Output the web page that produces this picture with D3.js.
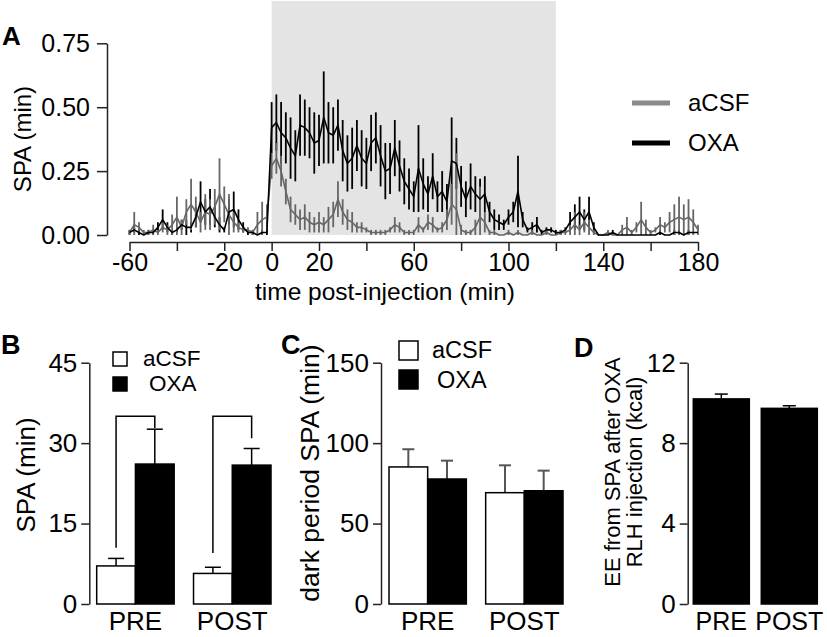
<!DOCTYPE html>
<html><head><meta charset="utf-8">
<script src="https://cdn.jsdelivr.net/npm/d3@7"></script>
<style>
body{margin:0;background:#fff}
svg{display:block;background:#fff}
text{font-family:"Liberation Sans",Arial,Helvetica,sans-serif;fill:#000}
</style>
</head><body>
<svg id="c" width="827" height="637"></svg>
<script>
// ---------------- DATA ----------------
// Panel A: time course (2-min bins), mean and SEM
const timeMin = d3.range(-60, 181, 2);
const oxaMean = [
0.01,0.02,0.01,0.00,0.01,0.01,0.03,0.06,0.03,0.01,
0.02,0.04,0.03,0.03,0.07,0.13,0.09,0.11,0.07,0.04,
0.02,0.09,0.10,0.06,0.03,0.01,0.01,0.00,0.01,0.01,
0.42,0.44,0.40,0.38,0.34,0.31,0.43,0.42,0.40,0.36,
0.37,0.46,0.40,0.39,0.43,0.33,0.28,0.30,0.35,0.30,
0.28,0.36,0.38,0.31,0.25,0.26,0.34,0.27,0.21,0.18,
0.15,0.26,0.20,0.16,0.23,0.15,0.17,0.13,0.29,0.28,
0.19,0.14,0.19,0.16,0.14,0.16,0.09,0.06,0.05,0.04,
0.07,0.09,0.17,0.06,0.02,0.03,0.04,0.01,0.02,0.02,
0.01,0.01,0.02,0.05,0.07,0.09,0.06,0.09,0.03,0.00,
0.00,0.00,0.01,0.00,0.00,0.00,0.00,0.00,0.00,0.00,
0.00,0.00,0.01,0.00,0.00,0.01,0.01,0.00,0.01,0.01,0.01];
const oxaSem = [
0.01,0.01,0.01,0.00,0.01,0.01,0.02,0.04,0.02,0.01,
0.01,0.02,0.03,0.02,0.04,0.08,0.05,0.07,0.04,0.03,
0.01,0.05,0.07,0.04,0.02,0.01,0.01,0.00,0.01,0.01,
0.10,0.11,0.12,0.10,0.12,0.10,0.12,0.11,0.10,0.12,
0.10,0.18,0.12,0.11,0.10,0.12,0.11,0.12,0.10,0.11,
0.10,0.11,0.10,0.12,0.11,0.10,0.11,0.10,0.09,0.08,
0.06,0.17,0.10,0.07,0.09,0.06,0.08,0.07,0.17,0.10,
0.08,0.07,0.09,0.07,0.08,0.07,0.04,0.04,0.03,0.02,
0.03,0.04,0.14,0.03,0.01,0.02,0.03,0.01,0.01,0.01,
0.01,0.01,0.01,0.04,0.05,0.06,0.04,0.06,0.02,0.00,
0.00,0.00,0.01,0.00,0.00,0.00,0.00,0.00,0.00,0.00,
0.00,0.00,0.01,0.00,0.00,0.01,0.01,0.00,0.01,0.00,0.00];
const csfMean = [
0.01,0.04,0.03,0.01,0.01,0.02,0.01,0.03,0.02,0.04,
0.07,0.03,0.09,0.12,0.09,0.05,0.09,0.08,0.11,0.16,
0.12,0.08,0.05,0.03,0.02,0.02,0.01,0.04,0.06,0.07,
0.27,0.30,0.25,0.17,0.10,0.08,0.06,0.07,0.05,0.04,
0.05,0.04,0.06,0.08,0.14,0.09,0.06,0.05,0.03,0.03,
0.02,0.01,0.01,0.01,0.01,0.02,0.04,0.03,0.01,0.01,
0.01,0.04,0.02,0.05,0.04,0.02,0.03,0.06,0.12,0.10,
0.02,0.01,0.01,0.03,0.07,0.05,0.01,0.01,0.00,0.00,
0.01,0.00,0.01,0.00,0.00,0.01,0.00,0.00,0.01,0.00,
0.00,0.01,0.01,0.02,0.04,0.02,0.05,0.03,0.01,0.00,
0.00,0.01,0.00,0.00,0.02,0.03,0.01,0.03,0.06,0.03,
0.01,0.02,0.04,0.03,0.05,0.06,0.07,0.06,0.07,0.05,0.02];
const csfSem = [
0.01,0.05,0.02,0.01,0.01,0.02,0.01,0.02,0.02,0.04,
0.08,0.03,0.05,0.10,0.06,0.04,0.07,0.06,0.07,0.14,
0.07,0.08,0.04,0.02,0.01,0.01,0.01,0.05,0.07,0.05,
0.05,0.06,0.06,0.05,0.05,0.04,0.04,0.05,0.04,0.03,
0.04,0.03,0.05,0.05,0.07,0.05,0.04,0.04,0.02,0.02,
0.01,0.01,0.01,0.01,0.01,0.01,0.03,0.02,0.01,0.01,
0.01,0.03,0.01,0.03,0.03,0.01,0.02,0.04,0.08,0.22,
0.02,0.01,0.01,0.03,0.12,0.04,0.01,0.01,0.00,0.00,
0.01,0.00,0.01,0.00,0.00,0.01,0.00,0.00,0.01,0.00,
0.00,0.01,0.01,0.02,0.05,0.02,0.04,0.03,0.01,0.00,
0.00,0.01,0.00,0.00,0.02,0.04,0.01,0.02,0.07,0.03,
0.01,0.01,0.03,0.02,0.04,0.06,0.08,0.06,0.07,0.05,0.02];
const shadeWindow = [0, 120];
const timeTicks = d3.range(-60, 181, 20);
const timeLabels = [-60, -20, 0, 20, 60, 100, 140, 180];
const spaTicksA = [0, 0.25, 0.5, 0.75];

// Panels B-D
const groups = ["PRE", "POST"];
const seriesNames = ["aCSF", "OXA"];
const bCsfMean = [7.1, 5.7];
const bCsfErr = [1.4, 1.15];
const bOxaMean = [26.1, 25.9];
const bOxaErr = [6.5, 3.1];
const bBracketTop = [35, 35];
const bBracketLeftEnd = [10.5, 9.5];
const bBracketRightEnd = [32.8, 30.9];
const bTicks = [0, 15, 30, 45];

const cCsfMean = [85.2, 69.2];
const cCsfErr = [11.0, 17.0];
const cOxaMean = [77.7, 70.4];
const cOxaErr = [11.4, 12.5];
const cTicks = [0, 50, 100, 150];

const dMean = [10.2, 9.73];
const dErr = [0.24, 0.13];
const dTicks = [0, 4, 8, 12];

// ---------------- DRAW ----------------
const svg = d3.select("#c");
const FONT = '"Liberation Sans",Arial,Helvetica,sans-serif';
const GRAY = "#666";

function styleAxis(g, fs) {
  g.attr("font-family", FONT).attr("font-size", fs);
  g.selectAll("path.domain").attr("stroke", "#222").attr("stroke-width", 1.5);
  g.selectAll(".tick line").attr("stroke", "#222").attr("stroke-width", 1.5);
  g.selectAll(".tick text").attr("fill", "#000");
}

// ===== Panel A =====
const xA = d3.scaleLinear().domain([-60, 180]).range([129.5, 698]);
const yA = d3.scaleLinear().domain([0, 0.75]).range([235, 43.3]);

svg.append("rect")
  .attr("x", xA(shadeWindow[0])).attr("y", 1)
  .attr("width", xA(shadeWindow[1]) - xA(shadeWindow[0]))
  .attr("height", yA(0) - 1)
  .attr("fill", "#e4e4e4");

const seriesA = [
  {name: "OXA", mean: oxaMean, sem: oxaSem, color: "#000"},
  {name: "aCSF", mean: csfMean, sem: csfSem, color: GRAY}
];
seriesA.forEach(s => {
  svg.append("g").selectAll("line").data(timeMin).join("line")
    .attr("x1", (t) => xA(t)).attr("x2", (t) => xA(t))
    .attr("y1", (t, i) => yA(Math.max(0, s.mean[i] - s.sem[i])))
    .attr("y2", (t, i) => yA(s.mean[i] + s.sem[i]))
    .attr("stroke", s.color).attr("stroke-width", 1.8);
});
seriesA.slice().reverse().forEach(s => {
  svg.append("path")
    .datum(timeMin)
    .attr("fill", "none").attr("stroke", s.color).attr("stroke-width", 1.6)
    .attr("stroke-linejoin", "round")
    .attr("d", d3.line().x(t => xA(t)).y((t, i) => yA(s.mean[i])));
});

const axAy = svg.append("g").attr("transform", "translate(107,0)")
  .call(d3.axisLeft(yA).tickValues(spaTicksA).tickFormat(d3.format(".2f")).tickSize(10).tickPadding(7).tickSizeOuter(0));
styleAxis(axAy, 25);
const axAx = svg.append("g").attr("transform", "translate(0,242)")
  .call(d3.axisBottom(xA).tickValues(timeTicks).tickFormat(d => timeLabels.includes(d) ? d : "").tickSize(9).tickPadding(2).tickSizeOuter(0));
styleAxis(axAx, 25);

svg.append("text").attr("x", 385).attr("y", 300).attr("text-anchor", "middle")
  .attr("font-size", 24.5).text("time post-injection (min)");
svg.append("text").attr("transform", "translate(23,139) rotate(-90)")
  .attr("text-anchor", "middle").attr("dy", "0.35em").attr("font-size", 24).text("SPA (min)");
svg.append("text").attr("x", 2).attr("y", 45).attr("font-size", 26).attr("font-weight", "bold").text("A");

// legend A
const legA = [{name: "aCSF", color: "#8a8a8a", y: 103}, {name: "OXA", color: "#000", y: 143}];
legA.forEach(l => {
  svg.append("line").attr("x1", 632).attr("x2", 670).attr("y1", l.y).attr("y2", l.y)
    .attr("stroke", l.color).attr("stroke-width", 5);
  svg.append("text").attr("x", 688).attr("y", l.y).attr("dy", "0.35em").attr("font-size", 24).text(l.name);
});

// ===== generic bar panel =====
function barPanel(opt) {
  const x = d3.scaleBand().domain(groups).range(opt.xr).paddingInner(opt.pad);
  const y = d3.scaleLinear().domain([0, opt.max]).range([604, 362.7]);
  const g = svg.append("g");
  const ax = g.append("g").attr("transform", `translate(${opt.axisX},0)`)
    .call(d3.axisLeft(y).tickValues(opt.ticks).tickSize(8).tickPadding(4).tickSizeOuter(0));
  styleAxis(ax, 26);
  g.selectAll("text.xl").data(groups).join("text").attr("class", "xl")
    .attr("x", d => x(d) + x.bandwidth() / 2).attr("y", 630)
    .attr("text-anchor", "middle").attr("font-size", opt.xfs || 26).text(d => d);
  return {x, y, g};
}

function errBar(g, cx, yTop, yErr, cap, color, w) {
  g.append("line").attr("x1", cx).attr("x2", cx).attr("y1", yTop).attr("y2", yErr)
    .attr("stroke", color).attr("stroke-width", w);
  g.append("line").attr("x1", cx - cap / 2).attr("x2", cx + cap / 2).attr("y1", yErr).attr("y2", yErr)
    .attr("stroke", color).attr("stroke-width", w);
}

// ===== Panel B =====
{
  const {x, y, g} = barPanel({xr: [96.7, 271], pad: 0.2, max: 45, ticks: bTicks, axisX: 89.3});
  const s = d3.scaleBand().domain(seriesNames).range([0, x.bandwidth()]);
  const sets = [{n: "aCSF", m: bCsfMean, e: bCsfErr, fill: "#fff"}, {n: "OXA", m: bOxaMean, e: bOxaErr, fill: "#000"}];
  sets.forEach(st => {
    groups.forEach((gr, i) => {
      const bx = x(gr) + s(st.n);
      errBar(g, bx + s.bandwidth() / 2, y(st.m[i]), y(st.m[i] + st.e[i]), 16, "#000", 1.5);
      g.append("rect").attr("x", bx).attr("y", y(st.m[i])).attr("width", s.bandwidth())
        .attr("height", y(0) - y(st.m[i])).attr("fill", st.fill).attr("stroke", "#000").attr("stroke-width", 1.5);
    });
  });
  groups.forEach((gr, i) => {
    const xl = x(gr) + s("aCSF") + s.bandwidth() / 2;
    const xr = x(gr) + s("OXA") + s.bandwidth() / 2;
    g.append("path").attr("fill", "none").attr("stroke", "#000").attr("stroke-width", 1.5)
      .attr("d", `M${xl},${y(bBracketLeftEnd[i])}V${y(bBracketTop[i])}H${xr}V${y(bBracketRightEnd[i])}`);
  });
  g.append("text").attr("transform", "translate(26,475) rotate(-90)").attr("text-anchor", "middle")
    .attr("dy", "0.35em").attr("font-size", 26).text("SPA (min)");
  g.append("text").attr("x", 1).attr("y", 354).attr("font-size", 27).attr("font-weight", "bold").text("B");
  // legend
  g.append("rect").attr("x", 113).attr("y", 352).attr("width", 14).attr("height", 14).attr("fill", "#fff").attr("stroke", "#000").attr("stroke-width", 1.5);
  g.append("text").attr("x", 143).attr("y", 366).attr("font-size", 22.5).text("aCSF");
  g.append("rect").attr("x", 113).attr("y", 377).attr("width", 14).attr("height", 14).attr("fill", "#000").attr("stroke", "#000").attr("stroke-width", 1.5);
  g.append("text").attr("x", 149).attr("y", 391).attr("font-size", 22.5).text("OXA");
}

// ===== Panel C =====
{
  const {x, y, g} = barPanel({xr: [389, 563], pad: 0.2, max: 150, ticks: cTicks, axisX: 381});
  const s = d3.scaleBand().domain(seriesNames).range([0, x.bandwidth()]);
  const sets = [{n: "aCSF", m: cCsfMean, e: cCsfErr, fill: "#fff"}, {n: "OXA", m: cOxaMean, e: cOxaErr, fill: "#000"}];
  sets.forEach(st => {
    groups.forEach((gr, i) => {
      const bx = x(gr) + s(st.n);
      errBar(g, bx + s.bandwidth() / 2, y(st.m[i]), y(st.m[i] + st.e[i]), 12, "#555", 2);
      g.append("rect").attr("x", bx).attr("y", y(st.m[i])).attr("width", s.bandwidth())
        .attr("height", y(0) - y(st.m[i])).attr("fill", st.fill).attr("stroke", "#000").attr("stroke-width", 1.5);
    });
  });
  g.append("text").attr("transform", "translate(310,473) rotate(-90)").attr("text-anchor", "middle")
    .attr("dy", "0.35em").attr("font-size", 26.5).text("dark period SPA (min)");
  g.append("text").attr("x", 281).attr("y", 354).attr("font-size", 27).attr("font-weight", "bold").text("C");
  g.append("rect").attr("x", 399).attr("y", 341).attr("width", 19).attr("height", 19).attr("fill", "#fff").attr("stroke", "#000").attr("stroke-width", 1.5);
  g.append("text").attr("x", 432).attr("y", 358).attr("font-size", 23.5).text("aCSF");
  g.append("rect").attr("x", 399).attr("y", 370).attr("width", 19).attr("height", 19).attr("fill", "#000").attr("stroke", "#000").attr("stroke-width", 1.5);
  g.append("text").attr("x", 437).attr("y", 388).attr("font-size", 23.5).text("OXA");
}

// ===== Panel D =====
{
  const {x, y, g} = barPanel({xr: [693.3, 817.3], pad: 0.176, max: 12, ticks: dTicks, axisX: 687.7, xfs: 25});
  groups.forEach((gr, i) => {
    errBar(g, x(gr) + x.bandwidth() / 2, y(dMean[i]), y(dMean[i] + dErr[i]), 13, "#000", 1.5);
    g.append("rect").attr("x", x(gr)).attr("y", y(dMean[i])).attr("width", x.bandwidth())
      .attr("height", y(0) - y(dMean[i])).attr("fill", "#000").attr("stroke", "#000").attr("stroke-width", 1.5);
  });
  const t = g.append("text").attr("transform", "translate(623,472) rotate(-90)").attr("text-anchor", "middle").attr("font-size", 22);
  t.append("tspan").attr("x", 0).attr("dy", "-0.15em").text("EE from SPA after OXA");
  t.append("tspan").attr("x", 0).attr("dy", "1.0em").text("RLH injection (kcal)");
  g.append("text").attr("x", 574).attr("y", 357).attr("font-size", 27).attr("font-weight", "bold").text("D");
}
</script>
</body></html>
